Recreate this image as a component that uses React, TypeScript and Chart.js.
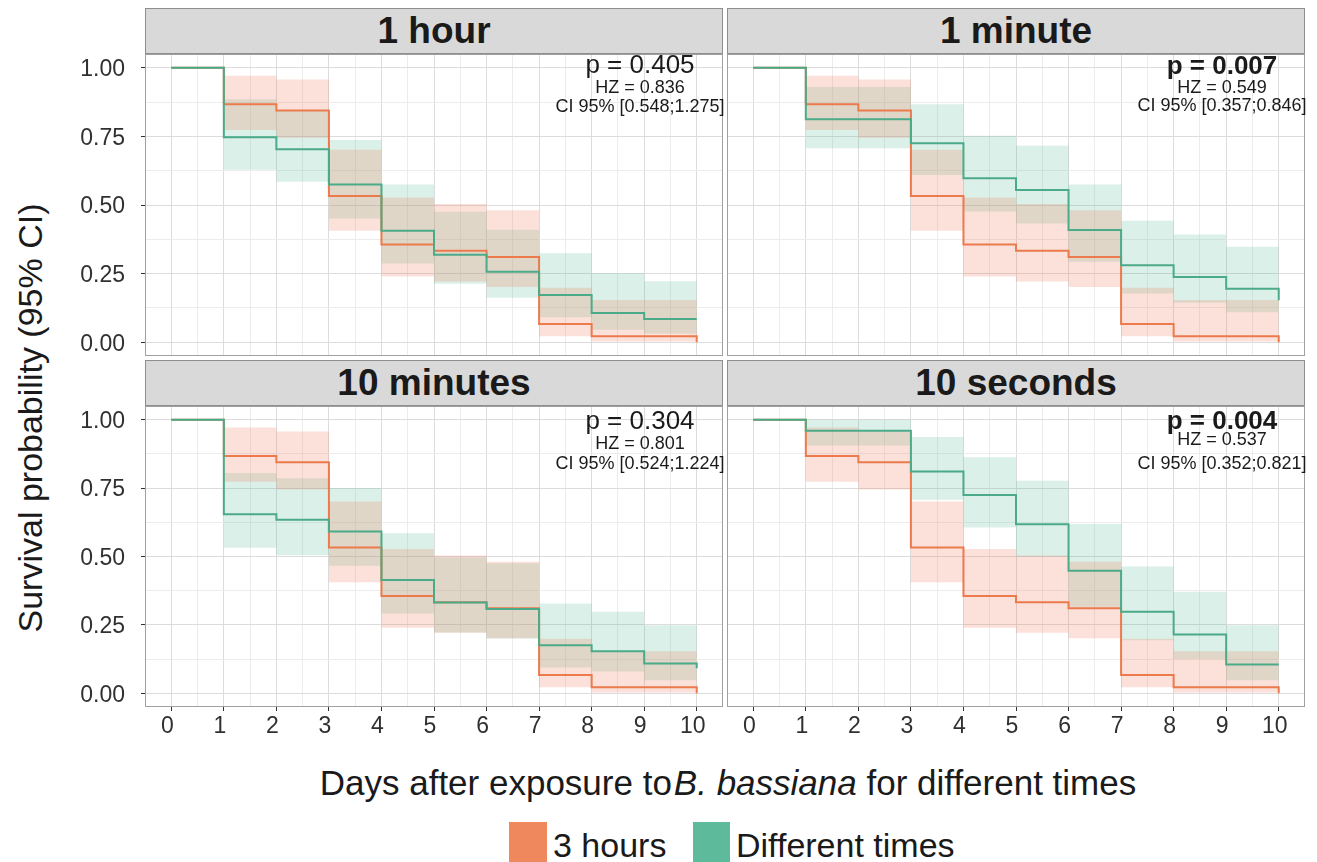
import React, { useEffect, useRef } from 'react';
import { Chart, registerables } from 'chart.js';

Chart.register(...registerables);

// ---------- data ----------
const DAYS = [0, 1, 2, 3, 4, 5, 6, 7, 8, 9, 10];
const X_TICKS = [0, 1, 2, 3, 4, 5, 6, 7, 8, 9, 10];
const Y_TICKS = [0, 0.25, 0.5, 0.75, 1];

const SERIES_NAMES = ['3 hours', 'Different times'];

// reference group (3 hours): survival and 95% CI, value holds from day i to day i+1
const SURV_3H = [1, 0.867, 0.844, 0.533, 0.356, 0.333, 0.311, 0.067, 0.022, 0.022, 0];
const UPPER_3H = [1, 0.971, 0.957, 0.701, 0.527, 0.504, 0.481, 0.199, 0.154, 0.154, 0.154];
const LOWER_3H = [1, 0.773, 0.745, 0.406, 0.24, 0.221, 0.201, 0.022, 0.003, 0.003, 0.003];

// different-time groups
const SURV_1H = [1, 0.747, 0.703, 0.575, 0.406, 0.319, 0.257, 0.172, 0.107, 0.085, 0.085];
const UPPER_1H = [1, 0.885, 0.845, 0.737, 0.575, 0.475, 0.41, 0.324, 0.251, 0.222, 0.222];
const LOWER_1H = [1, 0.628, 0.585, 0.451, 0.287, 0.213, 0.162, 0.091, 0.046, 0.032, 0.032];

const SURV_1MIN = [1, 0.812, 0.812, 0.725, 0.597, 0.555, 0.409, 0.281, 0.238, 0.195, 0.153];
const UPPER_1MIN = [1, 0.93, 0.93, 0.867, 0.752, 0.716, 0.575, 0.443, 0.393, 0.348, 0.348];
const LOWER_1MIN = [1, 0.707, 0.707, 0.609, 0.476, 0.433, 0.293, 0.178, 0.144, 0.109, 0.109];

const SURV_10MIN = [1, 0.654, 0.634, 0.591, 0.414, 0.332, 0.308, 0.176, 0.154, 0.109, 0.092];
const UPPER_10MIN = [1, 0.805, 0.786, 0.75, 0.585, 0.497, 0.475, 0.328, 0.298, 0.249, 0.249];
const LOWER_10MIN = [1, 0.532, 0.505, 0.466, 0.292, 0.222, 0.2, 0.094, 0.08, 0.048, 0.048];

const SURV_10S = [1, 0.96, 0.96, 0.811, 0.725, 0.618, 0.448, 0.298, 0.215, 0.105, 0.105];
const UPPER_10S = [1, 1.0, 1.0, 0.937, 0.863, 0.777, 0.619, 0.463, 0.371, 0.249, 0.249];
const LOWER_10S = [1, 0.906, 0.906, 0.707, 0.606, 0.499, 0.316, 0.194, 0.125, 0.048, 0.048];

const PANEL_TITLES = ['1 hour', '1 minute', '10 minutes', '10 seconds'];
const P_VALUES = ['0.405', '0.007', '0.304', '0.004'];
const HZ_VALUES = ['0.836', '0.549', '0.801', '0.537'];
const CI_LOW = ['0.548', '0.357', '0.524', '0.352'];
const CI_HIGH = ['1.275', '0.846', '1.224', '0.821'];
const SIGNIFICANT = [false, true, false, true];

// ---------- styles ----------
const FONT = "'Liberation Sans', Arial, Helvetica, sans-serif";
const ORANGE_LINE = '#EC7A4C';
const TEAL_LINE = '#4BAA87';
const ORANGE_FILL = 'rgba(240,130,95,0.24)';
const TEAL_FILL = 'rgba(90,185,155,0.22)';
const ORANGE_KEY = '#F0885E';
const TEAL_KEY = '#5DBB9C';
const MAJOR_GRID = '#DCDCDC';
const MINOR_GRID = '#ECECEC';
const PANEL_BORDER = '#A0A0A0';
const TEXT = '#1a1a1a';
const TICK_TEXT = '#303030';

const COL_X = [145, 727];
const ROW_Y = [54, 406];
const PLOT_W = 578;
const PLOT_H = [302, 301];
const Y_AXIS_W = 85;
const X_AXIS_H = 40;
const ANN_X = [640, 1222];
const ANN_Y = [
  [65, 87.5, 106.5],
  [66, 87.5, 106],
  [421, 444, 463.5],
  [421, 440, 464],
];

const X_GRID = X_TICKS.flatMap((t, i) => (i < X_TICKS.length - 1 ? [t, t + 0.5] : [t]));
const Y_GRID = Y_TICKS.flatMap((t, i) => (i < Y_TICKS.length - 1 ? [t, t + 0.125] : [t]));

const isMajorX = (v: number) => Math.abs(v - Math.round(v)) < 1e-6;
const isMajorY = (v: number) => Math.abs(v * 4 - Math.round(v * 4)) < 1e-6;

const GROUPS = [
  { surv: SURV_1H, upper: UPPER_1H, lower: LOWER_1H },
  { surv: SURV_1MIN, upper: UPPER_1MIN, lower: LOWER_1MIN },
  { surv: SURV_10MIN, upper: UPPER_10MIN, lower: LOWER_10MIN },
  { surv: SURV_10S, upper: UPPER_10S, lower: LOWER_10S },
];

const panelBorder = {
  id: 'panelBorder',
  afterDraw(chart: any) {
    const { ctx, chartArea: a } = chart;
    ctx.save();
    ctx.strokeStyle = PANEL_BORDER;
    ctx.lineWidth = 1;
    ctx.strokeRect(a.left + 0.5, a.top + 0.5, a.right - a.left - 1, a.bottom - a.top - 1);
    ctx.restore();
  },
};

const zeroPadding = (s: any) => {
  s.paddingTop = 0;
  s.paddingBottom = 0;
  s.paddingLeft = 0;
  s.paddingRight = 0;
};

function Panel({ idx }: { idx: number }) {
  const ref = useRef<HTMLCanvasElement>(null);
  const col = idx % 2;
  const row = Math.floor(idx / 2);
  const showY = col === 0;
  const showX = row === 1;
  const yw = showY ? Y_AXIS_W : 0;
  const xh = showX ? X_AXIS_H : 0;
  const width = PLOT_W + yw;
  const height = PLOT_H[row] + xh;
  const left = COL_X[col] - yw;
  const top = ROW_Y[row];

  useEffect(() => {
    const g = GROUPS[idx];
    const pts = (arr: number[]) => DAYS.map((d, i) => ({ x: d, y: arr[i] }));
    const line = (label: string, arr: number[], color: string) => ({
      label,
      data: pts(arr),
      borderColor: color,
      borderWidth: 2,
      stepped: 'before' as const,
      pointRadius: 0,
      fill: false,
    });
    const band = (arr: number[], fill: any, bg: string) => ({
      data: pts(arr),
      borderColor: 'rgba(0,0,0,0)',
      borderWidth: 0,
      stepped: 'before' as const,
      pointRadius: 0,
      fill,
      backgroundColor: bg,
    });
    const chart = new Chart(ref.current as HTMLCanvasElement, {
      type: 'line',
      data: {
        datasets: [
          line(SERIES_NAMES[1], g.surv, TEAL_LINE),
          line(SERIES_NAMES[0], SURV_3H, ORANGE_LINE),
          band(UPPER_3H, '+1', ORANGE_FILL),
          band(LOWER_3H, false, ORANGE_FILL),
          band(g.upper, '+1', TEAL_FILL),
          band(g.lower, false, TEAL_FILL),
        ] as any,
      },
      options: {
        animation: false,
        responsive: false,
        devicePixelRatio: 1,
        events: [],
        layout: { padding: 0, autoPadding: false },
        plugins: { legend: { display: false }, tooltip: { enabled: false } },
        scales: {
          x: {
            type: 'linear',
            min: -0.5,
            max: 10.5,
            bounds: 'data',
            position: 'bottom',
            afterBuildTicks: (s: any) => {
              s.ticks = X_GRID.map((v) => ({ value: v }));
            },
            afterFit: (s: any) => {
              s.height = xh;
              zeroPadding(s);
            },
            border: { display: false },
            grid: {
              color: (c: any) => (c.tick && isMajorX(c.tick.value) ? MAJOR_GRID : MINOR_GRID),
              tickColor: (c: any) => (c.tick && isMajorX(c.tick.value) ? '#333333' : 'rgba(0,0,0,0)'),
              drawTicks: showX,
              tickLength: 4,
              lineWidth: 1,
            },
            ticks: {
              display: showX,
              autoSkip: false,
              maxRotation: 0,
              minRotation: 0,
              padding: 2,
              labelOffset: -4,
              color: TICK_TEXT,
              font: { family: FONT, size: 23 },
              callback: (v: any) => (isMajorX(Number(v)) ? String(Math.round(Number(v))) : ''),
            },
          },
          y: {
            type: 'linear',
            min: -0.05,
            max: 1.05,
            bounds: 'data',
            position: 'left',
            afterBuildTicks: (s: any) => {
              s.ticks = Y_GRID.map((v) => ({ value: v }));
            },
            afterFit: (s: any) => {
              s.width = yw;
              zeroPadding(s);
            },
            border: { display: false },
            grid: {
              color: (c: any) => (c.tick && isMajorY(c.tick.value) ? MAJOR_GRID : MINOR_GRID),
              tickColor: (c: any) => (c.tick && isMajorY(c.tick.value) ? '#333333' : 'rgba(0,0,0,0)'),
              drawTicks: showY,
              tickLength: 4,
              lineWidth: 1,
            },
            ticks: {
              display: showY,
              autoSkip: false,
              padding: 16,
              labelOffset: 2,
              color: TICK_TEXT,
              font: { family: FONT, size: 23 },
              callback: (v: any) => (isMajorY(Number(v)) ? Number(v).toFixed(2) : ''),
            },
          },
        },
      } as any,
      plugins: [panelBorder],
    });
    return () => chart.destroy();
  }, [idx]);

  return (
    <canvas
      ref={ref}
      width={width}
      height={height}
      style={{ position: 'absolute', left, top, width, height }}
    />
  );
}

function Strip({ idx }: { idx: number }) {
  const col = idx % 2;
  const row = Math.floor(idx / 2);
  return (
    <div
      style={{
        position: 'absolute',
        left: COL_X[col],
        top: ROW_Y[row] - 46,
        width: PLOT_W,
        height: 46,
        boxSizing: 'border-box',
        background: '#D9D9D9',
        border: '1px solid #8E8E8E',
        display: 'flex',
        alignItems: 'center',
        justifyContent: 'center',
        fontFamily: FONT,
        fontWeight: 'bold',
        fontSize: 37,
        color: TEXT,
        lineHeight: '44px',
      }}
    >
      {PANEL_TITLES[idx]}
    </div>
  );
}

function Annotation({ idx }: { idx: number }) {
  const col = idx % 2;
  const cx = ANN_X[col];
  const ys = ANN_Y[idx];
  const lineDiv = (text: string, cy: number, size: number, bold: boolean) => (
    <div
      style={{
        position: 'absolute',
        left: cx - 150,
        width: 300,
        top: cy - size * 0.6,
        height: size * 1.2,
        lineHeight: `${size * 1.2}px`,
        textAlign: 'center',
        fontFamily: FONT,
        fontSize: size,
        fontWeight: bold ? 'bold' : 'normal',
        color: TEXT,
        whiteSpace: 'nowrap',
      }}
    >
      {text}
    </div>
  );
  return (
    <>
      {lineDiv(`p = ${P_VALUES[idx]}`, ys[0], 26, SIGNIFICANT[idx])}
      {lineDiv(`HZ = ${HZ_VALUES[idx]}`, ys[1], 18, false)}
      {lineDiv(`CI 95% [${CI_LOW[idx]};${CI_HIGH[idx]}]`, ys[2], 18, false)}
    </>
  );
}

export default function App() {
  const idxs = [0, 1, 2, 3];
  return (
    <div
      style={{
        position: 'absolute',
        left: 0,
        top: 0,
        width: 1317,
        height: 862,
        background: '#ffffff',
        overflow: 'hidden',
        fontFamily: FONT,
      }}
    >
      {idxs.map((i) => (
        <Panel key={`p${i}`} idx={i} />
      ))}
      {idxs.map((i) => (
        <Strip key={`s${i}`} idx={i} />
      ))}
      {idxs.map((i) => (
        <Annotation key={`a${i}`} idx={i} />
      ))}
      <div
        style={{
          position: 'absolute',
          left: 30,
          top: 418,
          transform: 'translate(-50%, -50%) rotate(-90deg)',
          whiteSpace: 'nowrap',
          fontSize: 34,
          color: TEXT,
          lineHeight: '40px',
        }}
      >
        Survival probability (95% CI)
      </div>
      <div
        style={{
          position: 'absolute',
          left: 228,
          width: 1000,
          top: 762,
          height: 42,
          lineHeight: '42px',
          textAlign: 'center',
          fontSize: 35,
          color: TEXT,
          whiteSpace: 'nowrap',
        }}
      >
        Days after exposure to<span style={{ fontStyle: 'italic', marginLeft: 2 }}>B. bassiana</span> for different
        times
      </div>
      <div style={{ position: 'absolute', left: 509, top: 822, width: 38, height: 42, background: ORANGE_KEY }} />
      <div
        style={{
          position: 'absolute',
          left: 553,
          top: 824,
          height: 42,
          lineHeight: '42px',
          fontSize: 34,
          color: TEXT,
          whiteSpace: 'nowrap',
        }}
      >
        {SERIES_NAMES[0]}
      </div>
      <div style={{ position: 'absolute', left: 693, top: 822, width: 37, height: 42, background: TEAL_KEY }} />
      <div
        style={{
          position: 'absolute',
          left: 736,
          top: 824,
          height: 42,
          lineHeight: '42px',
          fontSize: 34,
          color: TEXT,
          whiteSpace: 'nowrap',
        }}
      >
        {SERIES_NAMES[1]}
      </div>
    </div>
  );
}
